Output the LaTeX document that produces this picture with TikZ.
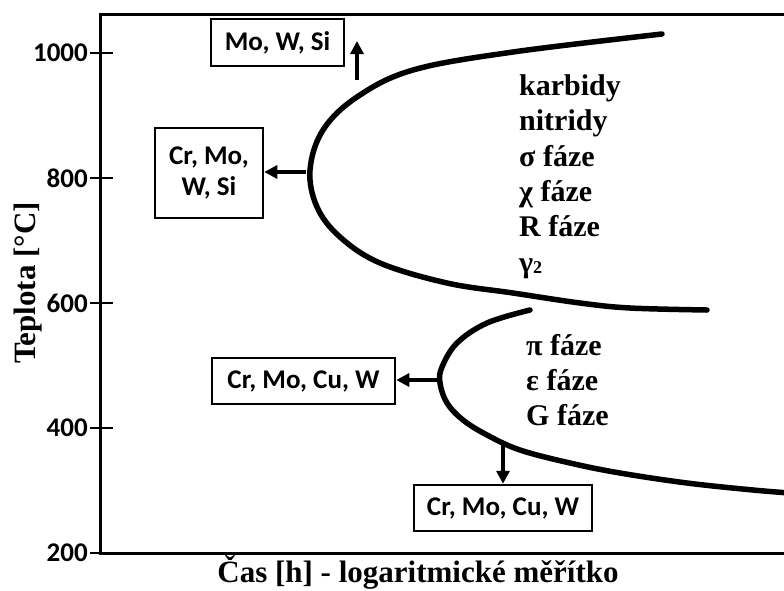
\documentclass[tikz,border=0pt]{standalone}
\usepackage{fontspec}
\setmainfont{Liberation Serif}
\newfontfamily\boxfont{Carlito}
\usetikzlibrary{arrows.meta}
\begin{document}
\begin{tikzpicture}[x=1pt,y=-1pt,
 elbox/.style={draw, line width=2.5pt, font=\boxfont\bfseries\fontsize{27}{31}\selectfont, inner sep=0pt, align=center},
 curve/.style={line width=5.5pt, line cap=round},
 axis/.style={line width=3pt},
 tickline/.style={line width=1.5pt},
 ticklab/.style={anchor=east, inner sep=0pt, font=\boxfont\bfseries\fontsize{27}{27}\selectfont},
 arr/.style={line width=3.2pt, -{Triangle[length=13pt,width=13pt]}},
 phase/.style={anchor=base west, inner sep=0pt, font=\bfseries\fontsize{30}{35}\selectfont},
 axlab/.style={inner sep=0pt, font=\bfseries\fontsize{31}{35}\selectfont},
]
\useasboundingbox (0,0) rectangle (784,590);
\fill[white] (0,0) rectangle (784,590);
% axes
\draw[axis] (784,14) -- (100,14) -- (100,553) -- (784,553);
\foreach \yy/\lab in {53/1000,178/800,303/600,428/400,553/200}{
  \draw[tickline] (90,\yy) -- (113,\yy);
  \node[ticklab] (t\lab) at (88,\yy) {\lab};
}
\node[axlab, rotate=90] (ylab) at (28,283) {Teplota [°C]};
\node[axlab, anchor=base] (xlab) at (418,582) {Čas [h] - logaritmické měřítko};
% curves
\draw[curve] plot[smooth, tension=0.6] coordinates {(662,34) (513,52) (413,70) (357,97) (323,130) (310,170) (317,207) (340,237) (380,263) (447,283) (513,293) (580,303) (630,308) (707,310)};
\draw[curve] plot[smooth, tension=0.6] coordinates {(530,310) (487,323) (457,343) (442,367) (440,383) (447,403) (463,420) (487,435) (520,450) (570,463) (620,473) (687,483) (753,490) (790,493)};
% boxes
\node[elbox, minimum width=133pt, minimum height=47pt] (b1) at (277.5,42.5) {Mo, W, Si};
\node[elbox, minimum width=108pt, minimum height=90pt] (b2) at (209,173) {Cr, Mo,\\W, Si};
\node[elbox, minimum width=183pt, minimum height=46pt] (b3) at (303.5,381) {Cr, Mo, Cu, W};
\node[elbox, minimum width=178pt, minimum height=46pt] (b4) at (503,508) {Cr, Mo, Cu, W};
% arrows
\coordinate (a1s) at (357,80);
\coordinate (a1e) at (357,41);
\coordinate (a2s) at (306,172);
\coordinate (a3s) at (438,380);
\coordinate (a4s) at (503,444);
\draw[arr] (a1s) -- (a1e);
\draw[arr] (a2s) -- (a2s -| b2.east);
\draw[arr] (a3s) -- (a3s -| b3.east);
\draw[arr] (a4s) -- (a4s |- b4.north);
% phases
\node[phase] (p1) at (519,95) {karbidy};
\node[phase] (p2) at (519,130) {nitridy};
\node[phase] (p3) at (519,166) {σ fáze};
\node[phase] (p4) at (519,201) {χ fáze};
\node[phase] (p5) at (519,236) {R fáze};
\node[phase] (p6) at (519,272) {γ\raisebox{-1pt}{\fontsize{18}{18}\selectfont 2}};
\node[phase] (q1) at (526,355) {π fáze};
\node[phase] (q2) at (526,390) {ε fáze};
\node[phase] (q3) at (526,425) {G fáze};
\end{tikzpicture}
\end{document}
